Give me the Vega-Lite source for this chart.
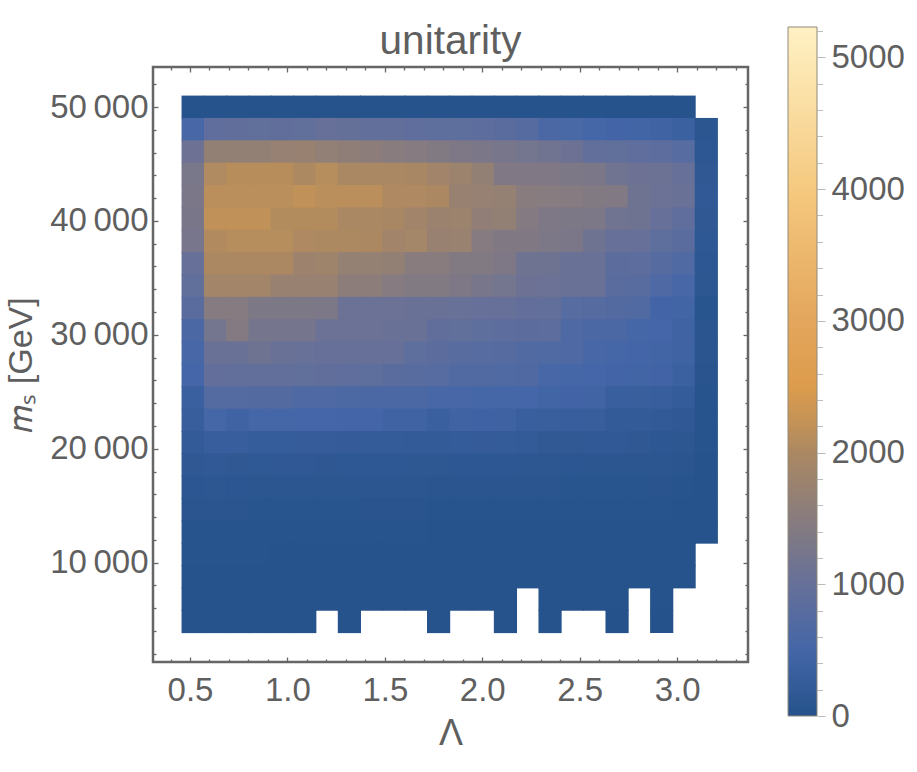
{
"$schema":"https://vega.github.io/schema/vega-lite/v6.json",
"background":"white",
"padding":{"left":3,"top":15,"right":4,"bottom":4},
"spacing":37,
"config":{"view":{"stroke":null},"font":"Liberation Sans","axis":{"grid":false,"labelFont":"Liberation Sans","titleFont":"Liberation Sans","labelColor":"#5f5f5f","titleColor":"#5f5f5f","labelFontSize":33,"titleFontSize":34,"titleFontWeight":"normal","labelOverlap":false,"labelFlush":false}},
"hconcat":[
{"spacing":2,"vconcat":[
{"width":595,"height":1,
"title":{"text":"unitarity","fontSize":40.5,"font":"Liberation Sans","fontWeight":"normal","color":"#5f5f5f","offset":-38},
"data":{"values":[{"l":1}]},
"mark":{"type":"point","opacity":0},
"encoding":{}},
{"width":595,"height":595,
"view":{"stroke":"#666666","strokeWidth":2.5},
"resolve":{"axis":{"x":"independent","y":"independent"}},
"layer":[
{"data":{"values":[
{"l":0.516,"m":49985,"v":35},{"l":0.631,"m":49985,"v":35},{"l":0.745,"m":49985,"v":33},{"l":0.86,"m":49985,"v":32},{"l":0.974,"m":49985,"v":32},{"l":1.089,"m":49985,"v":30},{"l":1.203,"m":49985,"v":30},{"l":1.318,"m":49985,"v":30},{"l":1.432,"m":49985,"v":30},{"l":1.547,"m":49985,"v":28},{"l":1.661,"m":49985,"v":28},{"l":1.776,"m":49985,"v":28},{"l":1.89,"m":49985,"v":28},{"l":2.005,"m":49985,"v":28},{"l":2.119,"m":49985,"v":25},{"l":2.234,"m":49985,"v":25},{"l":2.348,"m":49985,"v":25},{"l":2.463,"m":49985,"v":25},{"l":2.577,"m":49985,"v":25},{"l":2.692,"m":49985,"v":22},{"l":2.806,"m":49985,"v":22},{"l":2.921,"m":49985,"v":22},{"l":3.036,"m":49985,"v":22},
{"l":0.516,"m":48022,"v":560},{"l":0.631,"m":48022,"v":900},{"l":0.745,"m":48022,"v":920},{"l":0.86,"m":48022,"v":930},{"l":0.974,"m":48022,"v":920},{"l":1.089,"m":48022,"v":930},{"l":1.203,"m":48022,"v":1000},{"l":1.318,"m":48022,"v":990},{"l":1.432,"m":48022,"v":950},{"l":1.547,"m":48022,"v":940},{"l":1.661,"m":48022,"v":900},{"l":1.776,"m":48022,"v":880},{"l":1.89,"m":48022,"v":880},{"l":2.005,"m":48022,"v":850},{"l":2.119,"m":48022,"v":820},{"l":2.234,"m":48022,"v":760},{"l":2.348,"m":48022,"v":600},{"l":2.463,"m":48022,"v":580},{"l":2.577,"m":48022,"v":520},{"l":2.692,"m":48022,"v":480},{"l":2.806,"m":48022,"v":470},{"l":2.921,"m":48022,"v":430},{"l":3.036,"m":48022,"v":370},{"l":3.15,"m":48022,"v":100},
{"l":0.516,"m":46059,"v":1100},{"l":0.631,"m":46059,"v":1650},{"l":0.745,"m":46059,"v":1650},{"l":0.86,"m":46059,"v":1650},{"l":0.974,"m":46059,"v":1700},{"l":1.089,"m":46059,"v":1720},{"l":1.203,"m":46059,"v":1640},{"l":1.318,"m":46059,"v":1600},{"l":1.432,"m":46059,"v":1550},{"l":1.547,"m":46059,"v":1500},{"l":1.661,"m":46059,"v":1450},{"l":1.776,"m":46059,"v":1400},{"l":1.89,"m":46059,"v":1350},{"l":2.005,"m":46059,"v":1300},{"l":2.119,"m":46059,"v":1250},{"l":2.234,"m":46059,"v":1200},{"l":2.348,"m":46059,"v":1150},{"l":2.463,"m":46059,"v":1100},{"l":2.577,"m":46059,"v":950},{"l":2.692,"m":46059,"v":930},{"l":2.806,"m":46059,"v":900},{"l":2.921,"m":46059,"v":870},{"l":3.036,"m":46059,"v":780},{"l":3.15,"m":46059,"v":130},
{"l":0.516,"m":44096,"v":1280},{"l":0.631,"m":44096,"v":2050},{"l":0.745,"m":44096,"v":2120},{"l":0.86,"m":44096,"v":2120},{"l":0.974,"m":44096,"v":2120},{"l":1.089,"m":44096,"v":2020},{"l":1.203,"m":44096,"v":2100},{"l":1.318,"m":44096,"v":1980},{"l":1.432,"m":44096,"v":1980},{"l":1.547,"m":44096,"v":1980},{"l":1.661,"m":44096,"v":1950},{"l":1.776,"m":44096,"v":1850},{"l":1.89,"m":44096,"v":1780},{"l":2.005,"m":44096,"v":1650},{"l":2.119,"m":44096,"v":1370},{"l":2.234,"m":44096,"v":1370},{"l":2.348,"m":44096,"v":1370},{"l":2.463,"m":44096,"v":1340},{"l":2.577,"m":44096,"v":1300},{"l":2.692,"m":44096,"v":1150},{"l":2.806,"m":44096,"v":1100},{"l":2.921,"m":44096,"v":1090},{"l":3.036,"m":44096,"v":1010},{"l":3.15,"m":44096,"v":170},
{"l":0.516,"m":42133,"v":1300},{"l":0.631,"m":42133,"v":2150},{"l":0.745,"m":42133,"v":2150},{"l":0.86,"m":42133,"v":2150},{"l":0.974,"m":42133,"v":2150},{"l":1.089,"m":42133,"v":2200},{"l":1.203,"m":42133,"v":2150},{"l":1.318,"m":42133,"v":2150},{"l":1.432,"m":42133,"v":2150},{"l":1.547,"m":42133,"v":2030},{"l":1.661,"m":42133,"v":2030},{"l":1.776,"m":42133,"v":2000},{"l":1.89,"m":42133,"v":1720},{"l":2.005,"m":42133,"v":1700},{"l":2.119,"m":42133,"v":1680},{"l":2.234,"m":42133,"v":1500},{"l":2.348,"m":42133,"v":1480},{"l":2.463,"m":42133,"v":1450},{"l":2.577,"m":42133,"v":1400},{"l":2.692,"m":42133,"v":1390},{"l":2.806,"m":42133,"v":1120},{"l":2.921,"m":42133,"v":1080},{"l":3.036,"m":42133,"v":1040},{"l":3.15,"m":42133,"v":180},
{"l":0.516,"m":40170,"v":1270},{"l":0.631,"m":40170,"v":2200},{"l":0.745,"m":40170,"v":2200},{"l":0.86,"m":40170,"v":2200},{"l":0.974,"m":40170,"v":2080},{"l":1.089,"m":40170,"v":2080},{"l":1.203,"m":40170,"v":2080},{"l":1.318,"m":40170,"v":1980},{"l":1.432,"m":40170,"v":1980},{"l":1.547,"m":40170,"v":1960},{"l":1.661,"m":40170,"v":1850},{"l":1.776,"m":40170,"v":1760},{"l":1.89,"m":40170,"v":1780},{"l":2.005,"m":40170,"v":1620},{"l":2.119,"m":40170,"v":1650},{"l":2.234,"m":40170,"v":1420},{"l":2.348,"m":40170,"v":1350},{"l":2.463,"m":40170,"v":1340},{"l":2.577,"m":40170,"v":1320},{"l":2.692,"m":40170,"v":1150},{"l":2.806,"m":40170,"v":1130},{"l":2.921,"m":40170,"v":1000},{"l":3.036,"m":40170,"v":900},{"l":3.15,"m":40170,"v":170},
{"l":0.516,"m":38207,"v":1240},{"l":0.631,"m":38207,"v":2060},{"l":0.745,"m":38207,"v":2100},{"l":0.86,"m":38207,"v":2100},{"l":0.974,"m":38207,"v":2100},{"l":1.089,"m":38207,"v":2030},{"l":1.203,"m":38207,"v":2020},{"l":1.318,"m":38207,"v":2020},{"l":1.432,"m":38207,"v":2000},{"l":1.547,"m":38207,"v":1850},{"l":1.661,"m":38207,"v":1900},{"l":1.776,"m":38207,"v":1720},{"l":1.89,"m":38207,"v":1740},{"l":2.005,"m":38207,"v":1450},{"l":2.119,"m":38207,"v":1380},{"l":2.234,"m":38207,"v":1380},{"l":2.348,"m":38207,"v":1320},{"l":2.463,"m":38207,"v":1300},{"l":2.577,"m":38207,"v":1130},{"l":2.692,"m":38207,"v":1020},{"l":2.806,"m":38207,"v":1000},{"l":2.921,"m":38207,"v":880},{"l":3.036,"m":38207,"v":820},{"l":3.15,"m":38207,"v":150},
{"l":0.516,"m":36244,"v":1000},{"l":0.631,"m":36244,"v":2000},{"l":0.745,"m":36244,"v":2000},{"l":0.86,"m":36244,"v":2000},{"l":0.974,"m":36244,"v":2000},{"l":1.089,"m":36244,"v":1800},{"l":1.203,"m":36244,"v":1820},{"l":1.318,"m":36244,"v":1680},{"l":1.432,"m":36244,"v":1680},{"l":1.547,"m":36244,"v":1650},{"l":1.661,"m":36244,"v":1500},{"l":1.776,"m":36244,"v":1500},{"l":1.89,"m":36244,"v":1400},{"l":2.005,"m":36244,"v":1400},{"l":2.119,"m":36244,"v":1350},{"l":2.234,"m":36244,"v":1130},{"l":2.348,"m":36244,"v":1130},{"l":2.463,"m":36244,"v":1060},{"l":2.577,"m":36244,"v":1060},{"l":2.692,"m":36244,"v":860},{"l":2.806,"m":36244,"v":850},{"l":2.921,"m":36244,"v":760},{"l":3.036,"m":36244,"v":680},{"l":3.15,"m":36244,"v":130},
{"l":0.516,"m":34281,"v":930},{"l":0.631,"m":34281,"v":1880},{"l":0.745,"m":34281,"v":1880},{"l":0.86,"m":34281,"v":1880},{"l":0.974,"m":34281,"v":1720},{"l":1.089,"m":34281,"v":1720},{"l":1.203,"m":34281,"v":1720},{"l":1.318,"m":34281,"v":1560},{"l":1.432,"m":34281,"v":1560},{"l":1.547,"m":34281,"v":1450},{"l":1.661,"m":34281,"v":1400},{"l":1.776,"m":34281,"v":1400},{"l":1.89,"m":34281,"v":1350},{"l":2.005,"m":34281,"v":1250},{"l":2.119,"m":34281,"v":1200},{"l":2.234,"m":34281,"v":1100},{"l":2.348,"m":34281,"v":1080},{"l":2.463,"m":34281,"v":1040},{"l":2.577,"m":34281,"v":1040},{"l":2.692,"m":34281,"v":820},{"l":2.806,"m":34281,"v":810},{"l":2.921,"m":34281,"v":650},{"l":3.036,"m":34281,"v":560},{"l":3.15,"m":34281,"v":120},
{"l":0.516,"m":32318,"v":820},{"l":0.631,"m":32318,"v":1450},{"l":0.745,"m":32318,"v":1450},{"l":0.86,"m":32318,"v":1340},{"l":0.974,"m":32318,"v":1340},{"l":1.089,"m":32318,"v":1340},{"l":1.203,"m":32318,"v":1330},{"l":1.318,"m":32318,"v":1080},{"l":1.432,"m":32318,"v":1080},{"l":1.547,"m":32318,"v":1070},{"l":1.661,"m":32318,"v":1060},{"l":1.776,"m":32318,"v":1040},{"l":1.89,"m":32318,"v":1030},{"l":2.005,"m":32318,"v":1020},{"l":2.119,"m":32318,"v":1000},{"l":2.234,"m":32318,"v":960},{"l":2.348,"m":32318,"v":950},{"l":2.463,"m":32318,"v":780},{"l":2.577,"m":32318,"v":770},{"l":2.692,"m":32318,"v":720},{"l":2.806,"m":32318,"v":700},{"l":2.921,"m":32318,"v":480},{"l":3.036,"m":32318,"v":470},{"l":3.15,"m":32318,"v":70},
{"l":0.516,"m":30355,"v":620},{"l":0.631,"m":30355,"v":1200},{"l":0.745,"m":30355,"v":1420},{"l":0.86,"m":30355,"v":1220},{"l":0.974,"m":30355,"v":1220},{"l":1.089,"m":30355,"v":1220},{"l":1.203,"m":30355,"v":1080},{"l":1.318,"m":30355,"v":1080},{"l":1.432,"m":30355,"v":1080},{"l":1.547,"m":30355,"v":1060},{"l":1.661,"m":30355,"v":1050},{"l":1.776,"m":30355,"v":920},{"l":1.89,"m":30355,"v":930},{"l":2.005,"m":30355,"v":880},{"l":2.119,"m":30355,"v":870},{"l":2.234,"m":30355,"v":860},{"l":2.348,"m":30355,"v":850},{"l":2.463,"m":30355,"v":640},{"l":2.577,"m":30355,"v":620},{"l":2.692,"m":30355,"v":600},{"l":2.806,"m":30355,"v":520},{"l":2.921,"m":30355,"v":510},{"l":3.036,"m":30355,"v":430},{"l":3.15,"m":30355,"v":80},
{"l":0.516,"m":28392,"v":540},{"l":0.631,"m":28392,"v":1040},{"l":0.745,"m":28392,"v":1060},{"l":0.86,"m":28392,"v":1120},{"l":0.974,"m":28392,"v":1040},{"l":1.089,"m":28392,"v":1030},{"l":1.203,"m":28392,"v":1020},{"l":1.318,"m":28392,"v":1020},{"l":1.432,"m":28392,"v":1010},{"l":1.547,"m":28392,"v":1000},{"l":1.661,"m":28392,"v":880},{"l":1.776,"m":28392,"v":860},{"l":1.89,"m":28392,"v":800},{"l":2.005,"m":28392,"v":780},{"l":2.119,"m":28392,"v":760},{"l":2.234,"m":28392,"v":700},{"l":2.348,"m":28392,"v":680},{"l":2.463,"m":28392,"v":640},{"l":2.577,"m":28392,"v":540},{"l":2.692,"m":28392,"v":520},{"l":2.806,"m":28392,"v":500},{"l":2.921,"m":28392,"v":470},{"l":3.036,"m":28392,"v":420},{"l":3.15,"m":28392,"v":75},
{"l":0.516,"m":26429,"v":510},{"l":0.631,"m":26429,"v":960},{"l":0.745,"m":26429,"v":950},{"l":0.86,"m":26429,"v":950},{"l":0.974,"m":26429,"v":940},{"l":1.089,"m":26429,"v":930},{"l":1.203,"m":26429,"v":920},{"l":1.318,"m":26429,"v":900},{"l":1.432,"m":26429,"v":880},{"l":1.547,"m":26429,"v":820},{"l":1.661,"m":26429,"v":790},{"l":1.776,"m":26429,"v":780},{"l":1.89,"m":26429,"v":700},{"l":2.005,"m":26429,"v":690},{"l":2.119,"m":26429,"v":680},{"l":2.234,"m":26429,"v":670},{"l":2.348,"m":26429,"v":540},{"l":2.463,"m":26429,"v":530},{"l":2.577,"m":26429,"v":510},{"l":2.692,"m":26429,"v":480},{"l":2.806,"m":26429,"v":470},{"l":2.921,"m":26429,"v":460},{"l":3.036,"m":26429,"v":370},{"l":3.15,"m":26429,"v":60},
{"l":0.516,"m":24466,"v":350},{"l":0.631,"m":24466,"v":740},{"l":0.745,"m":24466,"v":730},{"l":0.86,"m":24466,"v":720},{"l":0.974,"m":24466,"v":720},{"l":1.089,"m":24466,"v":650},{"l":1.203,"m":24466,"v":640},{"l":1.318,"m":24466,"v":630},{"l":1.432,"m":24466,"v":620},{"l":1.547,"m":24466,"v":610},{"l":1.661,"m":24466,"v":600},{"l":1.776,"m":24466,"v":560},{"l":1.89,"m":24466,"v":540},{"l":2.005,"m":24466,"v":530},{"l":2.119,"m":24466,"v":520},{"l":2.234,"m":24466,"v":510},{"l":2.348,"m":24466,"v":470},{"l":2.463,"m":24466,"v":460},{"l":2.577,"m":24466,"v":450},{"l":2.692,"m":24466,"v":330},{"l":2.806,"m":24466,"v":320},{"l":2.921,"m":24466,"v":310},{"l":3.036,"m":24466,"v":260},{"l":3.15,"m":24466,"v":50},
{"l":0.516,"m":22503,"v":300},{"l":0.631,"m":22503,"v":530},{"l":0.745,"m":22503,"v":430},{"l":0.86,"m":22503,"v":520},{"l":0.974,"m":22503,"v":520},{"l":1.089,"m":22503,"v":510},{"l":1.203,"m":22503,"v":510},{"l":1.318,"m":22503,"v":500},{"l":1.432,"m":22503,"v":500},{"l":1.547,"m":22503,"v":430},{"l":1.661,"m":22503,"v":420},{"l":1.776,"m":22503,"v":350},{"l":1.89,"m":22503,"v":420},{"l":2.005,"m":22503,"v":410},{"l":2.119,"m":22503,"v":400},{"l":2.234,"m":22503,"v":330},{"l":2.348,"m":22503,"v":320},{"l":2.463,"m":22503,"v":310},{"l":2.577,"m":22503,"v":300},{"l":2.692,"m":22503,"v":230},{"l":2.806,"m":22503,"v":220},{"l":2.921,"m":22503,"v":210},{"l":3.036,"m":22503,"v":160},{"l":3.15,"m":22503,"v":45},
{"l":0.516,"m":20540,"v":220},{"l":0.631,"m":20540,"v":310},{"l":0.745,"m":20540,"v":310},{"l":0.86,"m":20540,"v":280},{"l":0.974,"m":20540,"v":280},{"l":1.089,"m":20540,"v":270},{"l":1.203,"m":20540,"v":270},{"l":1.318,"m":20540,"v":250},{"l":1.432,"m":20540,"v":240},{"l":1.547,"m":20540,"v":240},{"l":1.661,"m":20540,"v":230},{"l":1.776,"m":20540,"v":230},{"l":1.89,"m":20540,"v":260},{"l":2.005,"m":20540,"v":250},{"l":2.119,"m":20540,"v":240},{"l":2.234,"m":20540,"v":230},{"l":2.348,"m":20540,"v":190},{"l":2.463,"m":20540,"v":190},{"l":2.577,"m":20540,"v":180},{"l":2.692,"m":20540,"v":180},{"l":2.806,"m":20540,"v":170},{"l":2.921,"m":20540,"v":125},{"l":3.036,"m":20540,"v":115},{"l":3.15,"m":20540,"v":38},
{"l":0.516,"m":18577,"v":170},{"l":0.631,"m":18577,"v":180},{"l":0.745,"m":18577,"v":170},{"l":0.86,"m":18577,"v":165},{"l":0.974,"m":18577,"v":160},{"l":1.089,"m":18577,"v":160},{"l":1.203,"m":18577,"v":155},{"l":1.318,"m":18577,"v":150},{"l":1.432,"m":18577,"v":145},{"l":1.547,"m":18577,"v":145},{"l":1.661,"m":18577,"v":140},{"l":1.776,"m":18577,"v":140},{"l":1.89,"m":18577,"v":135},{"l":2.005,"m":18577,"v":130},{"l":2.119,"m":18577,"v":125},{"l":2.234,"m":18577,"v":120},{"l":2.348,"m":18577,"v":115},{"l":2.463,"m":18577,"v":110},{"l":2.577,"m":18577,"v":105},{"l":2.692,"m":18577,"v":100},{"l":2.806,"m":18577,"v":95},{"l":2.921,"m":18577,"v":90},{"l":3.036,"m":18577,"v":80},{"l":3.15,"m":18577,"v":33},
{"l":0.516,"m":16614,"v":110},{"l":0.631,"m":16614,"v":115},{"l":0.745,"m":16614,"v":110},{"l":0.86,"m":16614,"v":108},{"l":0.974,"m":16614,"v":105},{"l":1.089,"m":16614,"v":100},{"l":1.203,"m":16614,"v":100},{"l":1.318,"m":16614,"v":95},{"l":1.432,"m":16614,"v":95},{"l":1.547,"m":16614,"v":90},{"l":1.661,"m":16614,"v":90},{"l":1.776,"m":16614,"v":85},{"l":1.89,"m":16614,"v":85},{"l":2.005,"m":16614,"v":82},{"l":2.119,"m":16614,"v":80},{"l":2.234,"m":16614,"v":78},{"l":2.348,"m":16614,"v":75},{"l":2.463,"m":16614,"v":72},{"l":2.577,"m":16614,"v":70},{"l":2.692,"m":16614,"v":66},{"l":2.806,"m":16614,"v":64},{"l":2.921,"m":16614,"v":60},{"l":3.036,"m":16614,"v":55},{"l":3.15,"m":16614,"v":28},
{"l":0.516,"m":14651,"v":75},{"l":0.631,"m":14651,"v":78},{"l":0.745,"m":14651,"v":75},{"l":0.86,"m":14651,"v":72},{"l":0.974,"m":14651,"v":70},{"l":1.089,"m":14651,"v":68},{"l":1.203,"m":14651,"v":66},{"l":1.318,"m":14651,"v":64},{"l":1.432,"m":14651,"v":62},{"l":1.547,"m":14651,"v":60},{"l":1.661,"m":14651,"v":58},{"l":1.776,"m":14651,"v":56},{"l":1.89,"m":14651,"v":54},{"l":2.005,"m":14651,"v":52},{"l":2.119,"m":14651,"v":50},{"l":2.234,"m":14651,"v":50},{"l":2.348,"m":14651,"v":48},{"l":2.463,"m":14651,"v":46},{"l":2.577,"m":14651,"v":44},{"l":2.692,"m":14651,"v":42},{"l":2.806,"m":14651,"v":40},{"l":2.921,"m":14651,"v":38},{"l":3.036,"m":14651,"v":35},{"l":3.15,"m":14651,"v":25},
{"l":0.516,"m":12688,"v":55},{"l":0.631,"m":12688,"v":55},{"l":0.745,"m":12688,"v":52},{"l":0.86,"m":12688,"v":50},{"l":0.974,"m":12688,"v":48},{"l":1.089,"m":12688,"v":47},{"l":1.203,"m":12688,"v":46},{"l":1.318,"m":12688,"v":44},{"l":1.432,"m":12688,"v":42},{"l":1.547,"m":12688,"v":40},{"l":1.661,"m":12688,"v":38},{"l":1.776,"m":12688,"v":37},{"l":1.89,"m":12688,"v":36},{"l":2.005,"m":12688,"v":35},{"l":2.119,"m":12688,"v":34},{"l":2.234,"m":12688,"v":33},{"l":2.348,"m":12688,"v":32},{"l":2.463,"m":12688,"v":31},{"l":2.577,"m":12688,"v":30},{"l":2.692,"m":12688,"v":28},{"l":2.806,"m":12688,"v":27},{"l":2.921,"m":12688,"v":26},{"l":3.036,"m":12688,"v":24},{"l":3.15,"m":12688,"v":20},
{"l":0.516,"m":10725,"v":42},{"l":0.631,"m":10725,"v":42},{"l":0.745,"m":10725,"v":40},{"l":0.86,"m":10725,"v":38},{"l":0.974,"m":10725,"v":36},{"l":1.089,"m":10725,"v":35},{"l":1.203,"m":10725,"v":34},{"l":1.318,"m":10725,"v":33},{"l":1.432,"m":10725,"v":32},{"l":1.547,"m":10725,"v":30},{"l":1.661,"m":10725,"v":29},{"l":1.776,"m":10725,"v":28},{"l":1.89,"m":10725,"v":27},{"l":2.005,"m":10725,"v":27},{"l":2.119,"m":10725,"v":26},{"l":2.234,"m":10725,"v":25},{"l":2.348,"m":10725,"v":25},{"l":2.463,"m":10725,"v":24},{"l":2.577,"m":10725,"v":23},{"l":2.692,"m":10725,"v":22},{"l":2.806,"m":10725,"v":21},{"l":2.921,"m":10725,"v":20},{"l":3.036,"m":10725,"v":18},
{"l":0.516,"m":8762,"v":32},{"l":0.631,"m":8762,"v":32},{"l":0.745,"m":8762,"v":30},{"l":0.86,"m":8762,"v":29},{"l":0.974,"m":8762,"v":28},{"l":1.089,"m":8762,"v":27},{"l":1.203,"m":8762,"v":26},{"l":1.318,"m":8762,"v":25},{"l":1.432,"m":8762,"v":24},{"l":1.547,"m":8762,"v":23},{"l":1.661,"m":8762,"v":22},{"l":1.776,"m":8762,"v":22},{"l":1.89,"m":8762,"v":21},{"l":2.005,"m":8762,"v":21},{"l":2.119,"m":8762,"v":20},{"l":2.234,"m":8762,"v":20},{"l":2.348,"m":8762,"v":19},{"l":2.463,"m":8762,"v":18},{"l":2.577,"m":8762,"v":18},{"l":2.692,"m":8762,"v":17},{"l":2.806,"m":8762,"v":17},{"l":2.921,"m":8762,"v":16},{"l":3.036,"m":8762,"v":15},
{"l":0.516,"m":6799,"v":25},{"l":0.631,"m":6799,"v":25},{"l":0.745,"m":6799,"v":24},{"l":0.86,"m":6799,"v":23},{"l":0.974,"m":6799,"v":22},{"l":1.089,"m":6799,"v":22},{"l":1.203,"m":6799,"v":21},{"l":1.318,"m":6799,"v":20},{"l":1.432,"m":6799,"v":20},{"l":1.547,"m":6799,"v":19},{"l":1.661,"m":6799,"v":18},{"l":1.776,"m":6799,"v":18},{"l":1.89,"m":6799,"v":17},{"l":2.005,"m":6799,"v":17},{"l":2.119,"m":6799,"v":16},{"l":2.348,"m":6799,"v":16},{"l":2.463,"m":6799,"v":15},{"l":2.577,"m":6799,"v":15},{"l":2.692,"m":6799,"v":14},{"l":2.921,"m":6799,"v":13},
{"l":0.516,"m":4836,"v":20},{"l":0.631,"m":4836,"v":20},{"l":0.745,"m":4836,"v":19},{"l":0.86,"m":4836,"v":18},{"l":0.974,"m":4836,"v":18},{"l":1.089,"m":4836,"v":17},{"l":1.318,"m":4836,"v":16},{"l":1.776,"m":4836,"v":15},{"l":2.119,"m":4836,"v":14},{"l":2.348,"m":4836,"v":13},{"l":2.692,"m":4836,"v":12},{"l":2.921,"m":4836,"v":11}
]},
"mark":{"type":"rect","width":23.2,"height":23.2},
"encoding":{
"x":{"field":"l","type":"quantitative","title":"Λ","scale":{"domain":[0.31,3.364],"nice":false,"zero":false},
"axis":{"orient":"bottom","values":[0.4,0.5,0.6,0.7,0.8,0.9,1,1.1,1.2,1.3,1.4,1.5,1.6,1.7,1.8,1.9,2,2.1,2.2,2.3,2.4,2.5,2.6,2.7,2.8,2.9,3,3.1,3.2,3.3],"domain":false,"tickColor":"#666666","tickWidth":1.3,"tickSize":{"condition":{"test":"abs(datum.value*2-round(datum.value*2))<0.001","value":-5},"value":-3},"labelExpr":"abs(datum.value*2-round(datum.value*2))<0.001 ? format(datum.value,'.1f') : ''","labelPadding":17,"titlePadding":7,"titleFontSize":36}},
"y":{"field":"m","type":"quantitative","title":"𝑚ₛ [GeV]","scale":{"domain":[1282,53512],"nice":false,"zero":false},
"axis":{"orient":"left","values":[2000,4000,6000,8000,10000,12000,14000,16000,18000,20000,22000,24000,26000,28000,30000,32000,34000,36000,38000,40000,42000,44000,46000,48000,50000,52000],"domain":false,"tickColor":"#666666","tickWidth":1.3,"tickSize":{"condition":{"test":"datum.value%10000==0","value":-5},"value":-3},"labelExpr":"datum.value%10000==0 ? replace(format(datum.value,','),',','\u2009') : ''","labelPadding":10,"titlePadding":11}},
"color":{"field":"v","type":"quantitative","legend":null,"scale":{"interpolate":"rgb","domain":[0,500,1000,2000,2200,2500,3000,4000,5231],"range":["#25528a","#4466a8","#667099","#ab8862","#c09158","#dd9c4d","#e3a65c","#f5c97f","#fff1c4"]}}
}},
{"data":{"values":[{"l":1,"m":10000}]},
"mark":{"type":"point","opacity":0},
"encoding":{
"x":{"field":"l","type":"quantitative","title":null,"axis":{"orient":"top","values":[0.4,0.5,0.6,0.7,0.8,0.9,1,1.1,1.2,1.3,1.4,1.5,1.6,1.7,1.8,1.9,2,2.1,2.2,2.3,2.4,2.5,2.6,2.7,2.8,2.9,3,3.1,3.2,3.3],"domain":false,"labels":false,"tickColor":"#666666","tickWidth":1.3,"tickSize":{"condition":{"test":"abs(datum.value*2-round(datum.value*2))<0.001","value":-5},"value":-3}}},
"y":{"field":"m","type":"quantitative","title":null,"axis":{"orient":"right","values":[2000,4000,6000,8000,10000,12000,14000,16000,18000,20000,22000,24000,26000,28000,30000,32000,34000,36000,38000,40000,42000,44000,46000,48000,50000,52000],"domain":false,"labels":false,"tickColor":"#666666","tickWidth":1.3,"tickSize":{"condition":{"test":"datum.value%10000==0","value":-5},"value":-3}}}
}}
]}
]},
{"width":29,"height":689,
"data":{"values":[{"lo":0,"hi":5231}]},
"mark":{"type":"rect","stroke":"#8f8a7a","strokeWidth":1,"fill":{"gradient":"linear","x1":0,"y1":1,"x2":0,"y2":0,"stops":[{"offset":0,"color":"#25528a"},{"offset":0.0956,"color":"#4466a8"},{"offset":0.1912,"color":"#667099"},{"offset":0.3823,"color":"#ab8862"},{"offset":0.4206,"color":"#c09158"},{"offset":0.4779,"color":"#dd9c4d"},{"offset":0.5735,"color":"#e3a65c"},{"offset":0.7647,"color":"#f5c97f"},{"offset":1,"color":"#fff1c4"}]}},
"encoding":{
"y":{"field":"lo","type":"quantitative","title":null,"scale":{"domain":[0,5231],"nice":false,"zero":false},
"axis":{"orient":"right","values":[0,200,400,600,800,1000,1200,1400,1600,1800,2000,2200,2400,2600,2800,3000,3200,3400,3600,3800,4000,4200,4400,4600,4800,5000,5200],"domain":false,"tickColor":"#bbbbbb","tickWidth":1,"tickSize":{"condition":{"test":"datum.value%1000==0","value":8},"value":5.5},"labelExpr":"datum.value%1000==0 ? format(datum.value,'d') : ''","labelPadding":6}},
"y2":{"field":"hi"}
}}
]
}
